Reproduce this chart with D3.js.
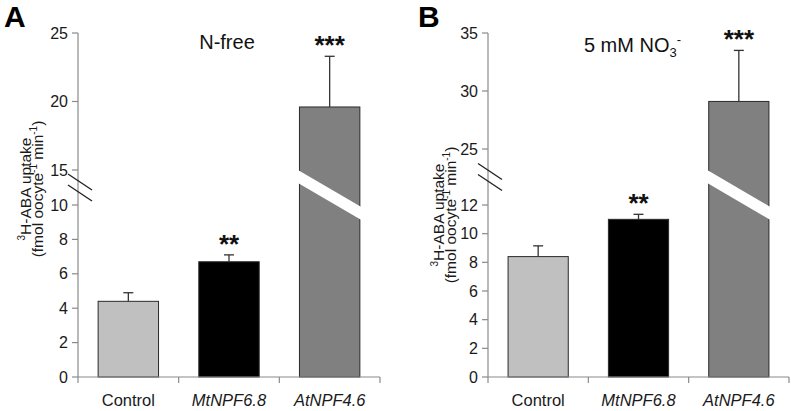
<!DOCTYPE html>
<html>
<head>
<meta charset="utf-8">
<script src="https://cdn.jsdelivr.net/npm/d3@7"></script>
<style>
  html, body { margin: 0; padding: 0; background: #fff; }
  svg { display: block; font-family: "Liberation Sans", Arial, Helvetica, sans-serif; }
</style>
</head>
<body>
<svg id="chart" width="791" height="411"></svg>
<script>
// ---- data ----
const categories = ["Control", "MtNPF6.8", "AtNPF4.6"];
const italicCategory = [false, true, true];
const barColors = ["#c0c0c0", "#000000", "#808080"];

const valuesA = [4.4, 6.7, 19.6];
const errorsA = [0.5, 0.4, 3.7];
const signifA = ["", "**", "***"];
const ticksA = [0, 2, 4, 6, 8, 10, 15, 20, 25];
const breakA = [10, 15];

const valuesB = [8.4, 11.0, 29.1];
const errorsB = [0.75, 0.35, 4.4];
const signifB = ["", "**", "***"];
const ticksB = [0, 2, 4, 6, 8, 10, 12, 25, 30, 35];
const breakB = [12, 25];

// ---- drawing ----
const svg = d3.select("#chart");
const axisColor = "#8a8a8a";
const textColor = "#1a1a1a";

function panel(cfg) {
  const g = svg.append("g");
  const y = d3.scaleLinear()
    .domain([0, cfg.brk[0], cfg.brk[1], cfg.max])
    .range(cfg.yRange);
  const x = d3.scaleBand().domain(categories)
    .range(cfg.xRange).paddingInner(0.4).paddingOuter(0.2);

  // bars
  g.selectAll("rect.bar").data(categories).join("rect")
    .attr("class", "bar")
    .attr("x", d => x(d))
    .attr("width", x.bandwidth())
    .attr("y", (d, i) => y(cfg.values[i]))
    .attr("height", (d, i) => y(0) - y(cfg.values[i]))
    .attr("fill", (d, i) => barColors[i])
    .attr("stroke", "#2a2a2a")
    .attr("stroke-width", 1);

  // white diagonal band through bars crossing the break
  const yMid = y(cfg.brk[0]) - 10;
  const slope = 37, thick = 13;
  categories.forEach((c, i) => {
    if (cfg.values[i] > cfg.brk[1]) {
      const x0 = x(c) - 1.5, x1 = x(c) + x.bandwidth() + 1.5;
      const yl = yMid - slope / 2, yr = yMid + slope / 2;
      g.append("polygon")
        .attr("points", [[x0, yl - thick / 2], [x1, yr - thick / 2], [x1, yr + thick / 2], [x0, yl + thick / 2]].map(p => p.join(",")).join(" "))
        .attr("fill", "#fff");
    }
  });

  // error bars
  const eg = g.selectAll("g.err").data(categories).join("g").attr("class", "err");
  eg.append("line")
    .attr("x1", d => x(d) + x.bandwidth() / 2)
    .attr("x2", d => x(d) + x.bandwidth() / 2)
    .attr("y1", (d, i) => y(cfg.values[i]))
    .attr("y2", (d, i) => y(cfg.values[i] + cfg.errors[i]))
    .attr("stroke", "#333").attr("stroke-width", 1.3);
  eg.append("line")
    .attr("x1", d => x(d) + x.bandwidth() / 2 - 5)
    .attr("x2", d => x(d) + x.bandwidth() / 2 + 5)
    .attr("y1", (d, i) => y(cfg.values[i] + cfg.errors[i]))
    .attr("y2", (d, i) => y(cfg.values[i] + cfg.errors[i]))
    .attr("stroke", "#333").attr("stroke-width", 1.3);

  // significance stars
  g.selectAll("text.sig").data(categories).join("text")
    .attr("class", "sig")
    .attr("x", d => x(d) + x.bandwidth() / 2)
    .attr("y", (d, i) => y(cfg.values[i] + cfg.errors[i]) - 2)
    .attr("text-anchor", "middle")
    .attr("font-size", 26).attr("font-weight", "bold")
    .attr("fill", "#111")
    .text((d, i) => cfg.signif[i]);

  // y axis
  const x0 = cfg.xRange[0];
  g.append("line").attr("x1", x0).attr("x2", x0)
    .attr("y1", y(0)).attr("y2", y(cfg.max))
    .attr("stroke", axisColor).attr("stroke-width", 1.2);
  const tk = g.selectAll("g.ytick").data(cfg.ticks).join("g").attr("class", "ytick")
    .attr("transform", d => `translate(0,${y(d)})`);
  tk.append("line").attr("x1", x0 - 6).attr("x2", x0)
    .attr("stroke", axisColor).attr("stroke-width", 1.2);
  tk.append("text").attr("x", x0 - 10).attr("dy", "0.35em")
    .attr("text-anchor", "end").attr("font-size", 16).attr("fill", textColor)
    .text(d => d);

  // axis break marks
  const ym = (y(cfg.brk[0]) + y(cfg.brk[1])) / 2;
  [-5.5, 5.5].forEach(o => {
    g.append("line")
      .attr("x1", x0 - 10).attr("y1", ym + o - 8)
      .attr("x2", x0 + 14).attr("y2", ym + o + 8)
      .attr("stroke", "#222").attr("stroke-width", 1.3);
  });

  // x axis
  g.append("line").attr("x1", cfg.xRange[0]).attr("x2", cfg.xRange[1])
    .attr("y1", y(0)).attr("y2", y(0))
    .attr("stroke", axisColor).attr("stroke-width", 1.2);
  const bounds = d3.range(categories.length + 1).map(i => cfg.xRange[0] + i * x.step());
  g.selectAll("line.xtick").data(bounds).join("line")
    .attr("class", "xtick")
    .attr("x1", d => d).attr("x2", d => d)
    .attr("y1", y(0)).attr("y2", y(0) + 6)
    .attr("stroke", axisColor).attr("stroke-width", 1.2);
  g.selectAll("text.xlab").data(categories).join("text")
    .attr("class", "xlab")
    .attr("x", d => x(d) + x.bandwidth() / 2)
    .attr("y", y(0) + 29)
    .attr("text-anchor", "middle").attr("font-size", 16.5).attr("fill", textColor)
    .attr("font-style", (d, i) => italicCategory[i] ? "italic" : "normal")
    .text(d => d);

  // y title
  const t1 = g.append("text")
    .attr("transform", `translate(${cfg.titleX[0]},${cfg.titleY}) rotate(-90)`)
    .attr("text-anchor", "middle").attr("font-size", 15.5).attr("fill", textColor);
  t1.append("tspan").attr("font-size", 10).attr("dy", "-0.45em").text("3");
  t1.append("tspan").attr("dy", "0.45em").text("H-ABA uptake");
  const t2 = g.append("text")
    .attr("transform", `translate(${cfg.titleX[1]},${cfg.titleY}) rotate(-90)`)
    .attr("text-anchor", "middle").attr("font-size", 15.5).attr("fill", textColor);
  t2.append("tspan").text("(fmol oocyte");
  t2.append("tspan").attr("font-size", 10).attr("dy", "-0.6em").text("-1");
  t2.append("tspan").attr("dy", "0.4em").text(" min");
  t2.append("tspan").attr("font-size", 10).attr("dy", "-0.6em").text("-1");
  t2.append("tspan").attr("dy", "0.4em").text(")");

  // panel letter
  g.append("text").attr("x", cfg.letterX).attr("y", 27)
    .attr("font-size", 30).attr("font-weight", "bold").attr("fill", "#000")
    .text(cfg.letter);

  // condition label
  const cx = x(categories[1]) + x.bandwidth() / 2 + cfg.condDx;
  const ct = g.append("text").attr("x", cx).attr("y", cfg.condY)
    .attr("text-anchor", "middle").attr("font-size", 20).attr("fill", "#111");
  cfg.cond(ct);
}

panel({
  values: valuesA, errors: errorsA, signif: signifA, ticks: ticksA, brk: breakA, max: 25,
  yRange: [377, 205, 170, 33], xRange: [78, 380],
  titleX: [29, 43], titleY: 189, letter: "A", letterX: 4,
  condDx: -2, condY: 49,
  cond: t => t.text("N-free")
});

panel({
  values: valuesB, errors: errorsB, signif: signifB, ticks: ticksB, brk: breakB, max: 35,
  yRange: [377, 205, 149, 33], xRange: [488, 789],
  titleX: [442, 456], titleY: 215, letter: "B", letterX: 418,
  condDx: -6, condY: 52,
  cond: t => {
    t.append("tspan").text("5 mM NO");
    t.append("tspan").attr("font-size", 13).attr("dy", "0.35em").text("3");
    t.append("tspan").attr("font-size", 13).attr("dy", "-1em").text("-");
  }
});
</script>
</body>
</html>
